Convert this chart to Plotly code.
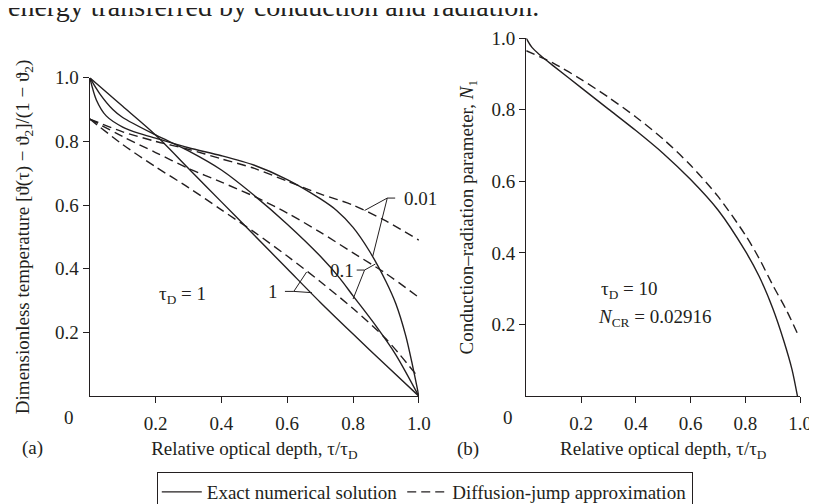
import plotly.graph_objects as go

# ---------------- data ----------------
# Panel (a): dimensionless temperature vs relative optical depth, tau_D = 1
exact_001_x = [0, 0.02, 0.05, 0.1, 0.15, 0.2, 0.3, 0.4, 0.5, 0.6, 0.7, 0.75, 0.8, 0.85, 0.9, 0.93, 0.96, 0.98, 1.0]
exact_001_y = [1.0, 0.93, 0.88, 0.845, 0.825, 0.81, 0.78, 0.755, 0.725, 0.68, 0.62, 0.583, 0.53, 0.455, 0.36, 0.29, 0.19, 0.10, 0.0]
exact_01_x = [0, 0.03, 0.07, 0.1, 0.2, 0.3, 0.4, 0.5, 0.6, 0.7, 0.76, 0.8, 0.87, 0.93, 1.0]
exact_01_y = [1.0, 0.95, 0.90, 0.875, 0.82, 0.77, 0.71, 0.63, 0.54, 0.44, 0.37, 0.315, 0.22, 0.13, 0.0]
exact_1_x = [0, 0.05, 0.1, 0.2, 0.3, 0.4, 0.5, 0.6, 0.7, 0.8, 0.9, 1.0]
exact_1_y = [1.0, 0.955, 0.91, 0.82, 0.715, 0.61, 0.505, 0.40, 0.295, 0.195, 0.097, 0.0]

diff_001_x = [0, 0.1, 0.2, 0.3, 0.4, 0.5, 0.6, 0.7, 0.8, 0.9, 1.0]
diff_001_y = [0.87, 0.83, 0.80, 0.775, 0.745, 0.715, 0.675, 0.635, 0.60, 0.55, 0.49]
diff_01_x = [0, 0.1, 0.2, 0.3, 0.4, 0.5, 0.6, 0.7, 0.8, 0.9, 1.0]
diff_01_y = [0.87, 0.815, 0.765, 0.715, 0.672, 0.627, 0.575, 0.515, 0.45, 0.385, 0.31]
diff_1_x = [0, 0.1, 0.2, 0.3, 0.4, 0.5, 0.6, 0.7, 0.8, 0.9, 0.99]
diff_1_y = [0.87, 0.79, 0.72, 0.655, 0.585, 0.515, 0.44, 0.36, 0.275, 0.18, 0.07]

# Panel (b): conduction-radiation parameter N1, tau_D = 10
exact_b_x = [0, 0.02, 0.05, 0.1, 0.2, 0.3, 0.4, 0.5, 0.6, 0.7, 0.8, 0.85, 0.9, 0.94, 0.97, 0.99]
exact_b_y = [1.0, 0.975, 0.953, 0.922, 0.862, 0.802, 0.742, 0.678, 0.605, 0.52, 0.405, 0.335, 0.245, 0.155, 0.075, 0.0]
diff_b_x = [0, 0.05, 0.1, 0.2, 0.3, 0.4, 0.5, 0.6, 0.7, 0.8, 0.85, 0.9, 0.95, 0.99]
diff_b_y = [0.965, 0.948, 0.93, 0.885, 0.835, 0.78, 0.718, 0.645, 0.558, 0.45, 0.385, 0.31, 0.24, 0.175]

tick_vals = [0.2, 0.4, 0.6, 0.8, 1.0]
tick_text = ["0.2", "0.4", "0.6", "0.8", "1.0"]

# ---------------- style ----------------
W, H = 817, 504
INK = "#231f20"
FONT = "Liberation Serif"
LW = 1.4
DASH = "9px,5px"

def px_x(p):
    return p / W

def px_y(p):
    return 1 - p / H

fig = go.Figure()

solid = dict(color=INK, width=LW)
dashed = dict(color=INK, width=LW, dash=DASH)

series_a = [
    (exact_001_x, exact_001_y, solid, "Exact numerical solution", True),
    (exact_01_x, exact_01_y, solid, "Exact numerical solution", False),
    (exact_1_x, exact_1_y, solid, "Exact numerical solution", False),
    (diff_001_x, diff_001_y, dashed, "Diffusion-jump approximation", True),
    (diff_01_x, diff_01_y, dashed, "Diffusion-jump approximation", False),
    (diff_1_x, diff_1_y, dashed, "Diffusion-jump approximation", False),
]
for xs, ys, ln, name, show in series_a:
    fig.add_trace(go.Scatter(x=xs, y=ys, mode="lines", line=dict(**ln, shape="spline", smoothing=0.8),
                             name=name, legendgroup=name, showlegend=show,
                             xaxis="x", yaxis="y", hoverinfo="skip"))

fig.add_trace(go.Scatter(x=exact_b_x, y=exact_b_y, mode="lines",
                         line=dict(**solid, shape="spline", smoothing=0.8),
                         name="Exact numerical solution", legendgroup="Exact numerical solution",
                         showlegend=False, xaxis="x2", yaxis="y2", hoverinfo="skip"))
fig.add_trace(go.Scatter(x=diff_b_x, y=diff_b_y, mode="lines",
                         line=dict(**dashed, shape="spline", smoothing=0.8),
                         name="Diffusion-jump approximation", legendgroup="Diffusion-jump approximation",
                         showlegend=False, xaxis="x2", yaxis="y2", hoverinfo="skip"))

axis_common = dict(
    range=[0, 1], showgrid=False, zeroline=False, showline=True, linecolor=INK, linewidth=1.3,
    ticks="outside", ticklen=6, tickwidth=1.2, tickcolor=INK,
    tickvals=tick_vals, ticktext=tick_text,
    tickfont=dict(family=FONT, size=19, color=INK),
    fixedrange=True,
)
title_font = dict(family=FONT, size=19, color=INK)

fig.update_layout(
    width=W, height=H,
    margin=dict(l=0, r=0, t=0, b=0),
    paper_bgcolor="white", plot_bgcolor="white",
    font=dict(family=FONT, color=INK, size=18),
    xaxis=dict(**axis_common, domain=[px_x(83), px_x(417)], anchor="y", ticklabelstandoff=4,
               title=dict(text="Relative optical depth, τ/τ<sub>D</sub>", font=title_font, standoff=8)),
    yaxis=dict(**axis_common, domain=[px_y(393), px_y(62)], anchor="x",
               title=dict(text="Dimensionless temperature [ϑ(τ) − ϑ<sub>2</sub>]/(1 − ϑ<sub>2</sub>)",
                          font=title_font, standoff=20)),
    xaxis2=dict(**axis_common, domain=[px_x(526), px_x(804)], anchor="y2", ticklabelstandoff=4,
                title=dict(text="Relative optical depth, τ/τ<sub>D</sub>", font=title_font, standoff=8)),
    yaxis2=dict(**axis_common, domain=[px_y(393), px_y(21)], anchor="x2",
                title=dict(text="Conduction–radiation parameter, <i>N</i><sub>1</sub>",
                           font=title_font, standoff=12)),
    showlegend=True,
    legend=dict(orientation="h", x=px_x(151), xanchor="left", y=px_y(472), yanchor="top",
                bordercolor=INK, borderwidth=1, bgcolor="white",
                font=dict(family=FONT, size=19, color=INK), itemwidth=40),
)

ann = []
def add_text(text, x, y, xref="paper", yref="paper", xanchor="center", yanchor="middle", size=19):
    ann.append(dict(text=text, x=x, y=y, xref=xref, yref=yref, xanchor=xanchor, yanchor=yanchor,
                    showarrow=False, font=dict(family=FONT, size=size, color=INK)))

# clipped caption line from the page above the figure
add_text("energy transferred by conduction and radiation.", px_x(-2), px_y(-12), xanchor="left", size=28)
# corner zeros
add_text("0", px_x(62), px_y(415))
add_text("0", px_x(507), px_y(415))
# panel letters
add_text("(a)", px_x(25), px_y(447))
add_text("(b)", px_x(467), px_y(448))
# panel (a) labels
add_text("τ<sub>D</sub> = 1", 0.205, 0.317, xref="x", yref="y", xanchor="left")
add_text("0.01", 0.95, 0.622, xref="x", yref="y", xanchor="left")
add_text("0.1", 0.808, 0.396, xref="x", yref="y", xanchor="right")
add_text("1", 0.578, 0.329, xref="x", yref="y", xanchor="right")
# panel (b) labels
add_text("τ<sub>D</sub> = 10", 0.266, 0.297, xref="x2", yref="y2", xanchor="left")
add_text("<i>N</i><sub>CR</sub> = 0.02916", 0.255, 0.219, xref="x2", yref="y2", xanchor="left")
fig.update_layout(annotations=ann)

# leader lines for curve labels (panel a)
leaders = [
    # 0.01
    (0.928, 0.622, 0.904, 0.622), (0.904, 0.622, 0.835, 0.583), (0.904, 0.622, 0.86, 0.44),
    # 0.1
    (0.811, 0.396, 0.835, 0.396), (0.835, 0.396, 0.868, 0.415), (0.835, 0.396, 0.80, 0.305),
    # 1
    (0.593, 0.329, 0.62, 0.329), (0.62, 0.329, 0.659, 0.39), (0.62, 0.329, 0.675, 0.325),
]
for x0, y0, x1, y1 in leaders:
    fig.add_shape(type="line", x0=x0, y0=y0, x1=x1, y1=y1, xref="x", yref="y",
                  line=dict(color=INK, width=1))

fig.write_html("out.html")
